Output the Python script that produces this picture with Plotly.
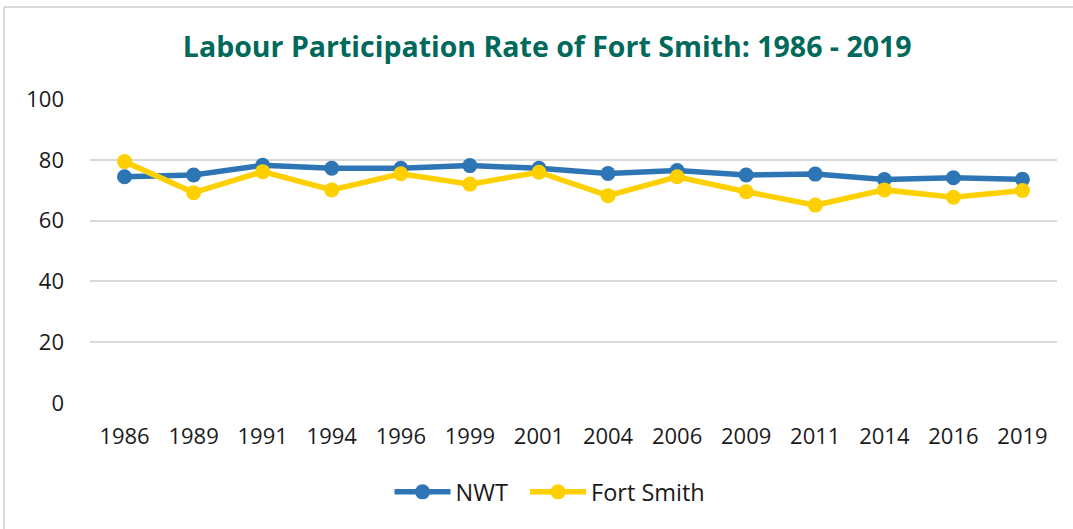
import plotly.graph_objects as go

years = ["1986", "1989", "1991", "1994", "1996", "1999", "2001", "2004", "2006", "2009", "2011", "2014", "2016", "2019"]
nwt = [74.4, 75.0, 78.2, 77.2, 77.2, 78.1, 77.2, 75.5, 76.5, 75.0, 75.3, 73.5, 74.1, 73.6]
fort_smith = [79.4, 69.2, 76.1, 70.1, 75.4, 72.0, 75.9, 68.2, 74.4, 69.5, 65.1, 70.1, 67.7, 69.9]
y_ticks = [0, 20, 40, 60, 80, 100]

BLUE = "#2E75B6"
YELLOW = "#FFD000"
FONT = "Open Sans"

fig = go.Figure()
fig.add_trace(go.Scatter(x=years, y=nwt, name="NWT\u00a0\u00a0", mode="lines+markers",
                         line=dict(color=BLUE, width=5.5),
                         marker=dict(color=BLUE, size=15)))
fig.add_trace(go.Scatter(x=years, y=fort_smith, name="Fort Smith", mode="lines+markers",
                         line=dict(color=YELLOW, width=5.5),
                         marker=dict(color=YELLOW, size=15)))

fig.update_layout(
    width=1073, height=529,
    margin=dict(l=90, r=16, t=99, b=126),
    paper_bgcolor="white", plot_bgcolor="white",
    font=dict(family=FONT, size=21, color="#1a1a1a"),
    title=dict(text="<b>Labour Participation Rate of Fort Smith: 1986 - 2019</b>",
               font=dict(family=FONT, size=28.5, color="#00695C"),
               x=0.51, xanchor="center", xref="container",
               y=1 - 47 / 529, yanchor="middle", yref="container"),
    xaxis=dict(type="category", range=[-0.5, 13.5], showgrid=False,
               showline=False, zeroline=False, ticks="", ticklabelstandoff=18,
               tickfont=dict(family=FONT, size=22, color="#1a1a1a")),
    yaxis=dict(range=[0, 100], tickvals=y_ticks, showgrid=True,
               gridcolor="#D9D9D9", gridwidth=2, zeroline=False, showline=False,
               ticks="", ticklabelstandoff=25,
               tickfont=dict(family=FONT, size=22, color="#1a1a1a")),
    legend=dict(orientation="h", x=0.4757, xanchor="center",
                y=-0.293, yanchor="middle",
                font=dict(family=FONT, size=23.5, color="#1a1a1a"),
                itemwidth=56),
    shapes=[
        dict(type="line", xref="paper", yref="paper",
             x0=(4 - 90) / 967, x1=(4 - 90) / 967, y0=(403 - 7) / 304, y1=(403 - 540) / 304,
             line=dict(color="#D9D9D9", width=2)),
        dict(type="line", xref="paper", yref="paper",
             x0=(4 - 90) / 967, x1=(1080 - 90) / 967, y0=(403 - 7) / 304, y1=(403 - 7) / 304,
             line=dict(color="#D9D9D9", width=2)),
    ],
)

fig.write_html("out.html", config={"displayModeBar": False},
               post_script="document.body.style.margin='0';document.body.style.padding='0';")
